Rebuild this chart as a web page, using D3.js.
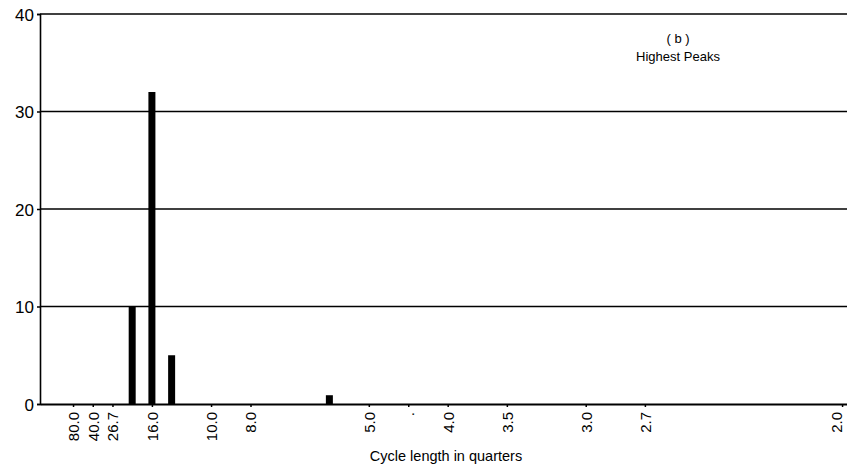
<!DOCTYPE html>
<html>
<head>
<meta charset="utf-8">
<script src="https://cdn.jsdelivr.net/npm/d3@7"></script>
<style>
  html, body { margin: 0; padding: 0; background: #fff; }
  svg { display: block; }
  text { font-family: "Liberation Sans", Arial, sans-serif; fill: #000; }
</style>
</head>
<body>
<svg id="chart" width="847" height="472"></svg>
<script>
// Frequency index k (cycle length = 160 / k quarters)
const barK = [8, 10, 12, 28];
const barValues = [10, 32, 5, 0.9];
const tickK = [2, 4, 6, 10, 16, 20, 32, 36, 40, 46, 54, 60, 80];
const tickLabels = ["80.0", "40.0", "26.7", "16.0", "10.0", "8.0", "5.0", ".", "4.0", "3.5", "3.0", "2.7", "2.0"];
const yTicks = [0, 10, 20, 30, 40];
const titleLines = ["( b )", "Highest Peaks"];
const xTitle = "Cycle length in quarters";

const svg = d3.select("#chart");
const x = d3.scaleLinear().domain([-1.35, 80.5]).range([40, 847]);
const y = d3.scaleLinear().domain([0, 40]).range([404, 14]);

// gridlines
svg.append("g").selectAll("line").data(yTicks.filter(d => d > 0)).join("line")
  .attr("x1", 40).attr("x2", 847)
  .attr("y1", d => y(d)).attr("y2", d => y(d))
  .attr("stroke", "#000").attr("stroke-width", 1.5);

// y axis
const yAxis = svg.append("g").attr("transform", "translate(40,0)")
  .call(d3.axisLeft(y).tickValues(yTicks).tickSize(3).tickPadding(3));
yAxis.select(".domain").attr("stroke", "#000").attr("stroke-width", 1.6);
yAxis.selectAll(".tick line").attr("stroke", "#000").attr("stroke-width", 1.5);
yAxis.selectAll("text").attr("font-size", 17).attr("dy", "0.36em")
  .style("font-family", "'Liberation Sans', Arial, sans-serif");

// x axis
const xAxis = svg.append("g").attr("transform", "translate(0,404)")
  .call(d3.axisBottom(x).tickValues(tickK).tickFormat((d, i) => tickLabels[i]).tickSize(3).tickSizeOuter(0));
xAxis.select(".domain").attr("stroke", "#000").attr("stroke-width", 2.2);
xAxis.selectAll(".tick line").attr("stroke", "#000").attr("stroke-width", 1.5);
xAxis.selectAll("text")
  .attr("font-size", 15)
  .attr("text-anchor", "end")
  .attr("x", 0).attr("y", 0).attr("dy", "0.36em")
  .attr("transform", (d, i) => {
    // keep the last label inside the picture edge
    const shift = Math.min(0, 836 - x(tickK[i]));
    return `translate(${shift},8) rotate(-90)`;
  })
  .style("font-family", "'Liberation Sans', Arial, sans-serif");

// bars
const bw = 7;
svg.append("g").selectAll("rect").data(barValues).join("rect")
  .attr("x", (d, i) => x(barK[i]) - bw / 2)
  .attr("width", bw)
  .attr("y", d => y(d))
  .attr("height", d => y(0) - y(d))
  .attr("fill", "#000");

// x title
svg.append("text").attr("x", 446).attr("y", 461).attr("text-anchor", "middle")
  .attr("font-size", 14.5).text(xTitle);

// panel title
svg.append("g").selectAll("text").data(titleLines).join("text")
  .attr("x", 678).attr("y", (d, i) => 43 + i * 18)
  .attr("text-anchor", "middle").attr("font-size", 13)
  .text(d => d);
</script>
</body>
</html>
